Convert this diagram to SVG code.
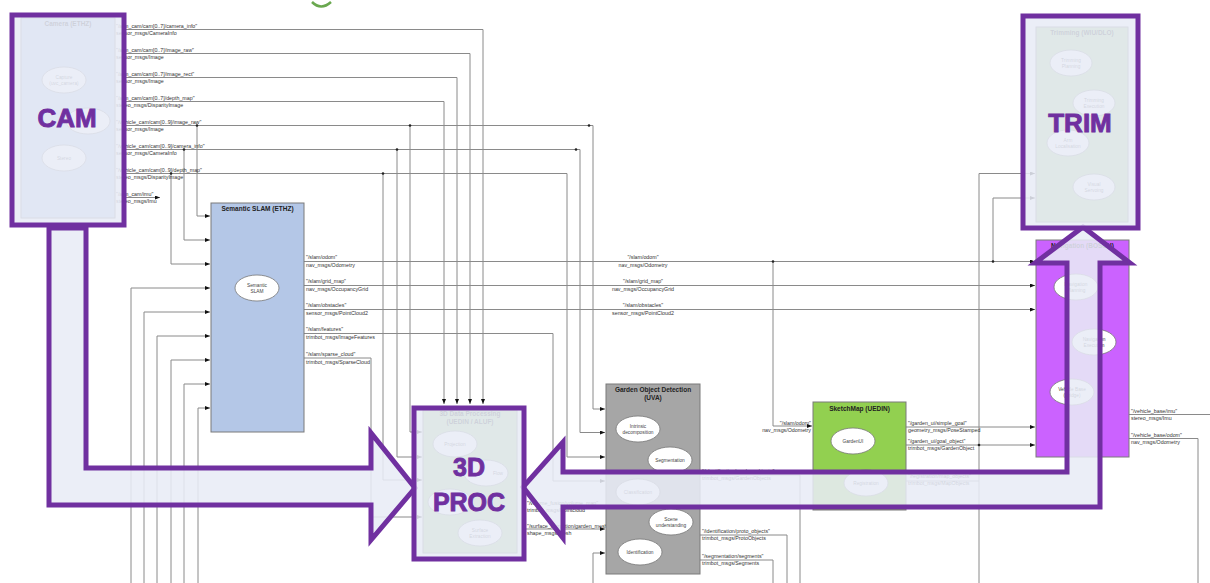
<svg xmlns="http://www.w3.org/2000/svg" width="1210" height="583" viewBox="0 0 1210 583">
<defs>
<marker id="a" markerWidth="5" markerHeight="4" refX="5" refY="2" orient="auto" markerUnits="userSpaceOnUse"><path d="M0,0 L5,2 L0,4 z" fill="#111"/></marker>
<style>
.c{fill:none;stroke:#8a8a8a;stroke-width:1}
.ca{fill:none;stroke:#8a8a8a;stroke-width:1;marker-end:url(#a)}
.d{fill:#222}
.lb{font-family:"Liberation Sans",Arial,sans-serif;font-size:5.3px;fill:#333}
.lbc{font-family:"Liberation Sans",Arial,sans-serif;font-size:5.3px;fill:#333;text-anchor:middle}
.lbr{font-family:"Liberation Sans",Arial,sans-serif;font-size:5.3px;fill:#333;text-anchor:end}
.nd{stroke:#7a7a7a;stroke-width:1}
.tt{font-family:"Liberation Sans",Arial,sans-serif;font-size:6.5px;font-weight:bold;fill:#222;text-anchor:middle}
.el{fill:#fff;stroke:#777;stroke-width:0.8}
.et{font-family:"Liberation Sans",Arial,sans-serif;font-size:4.8px;fill:#444;text-anchor:middle}
.ov{fill:#e8ecf6;fill-opacity:0.87;stroke:#7030a0;stroke-width:5}
.big{font-family:"Liberation Sans",Arial,sans-serif;font-weight:bold;fill:#7030a0;stroke:#7030a0;stroke-width:0.9;text-anchor:middle}
</style>
</defs>
<rect width="1210" height="583" fill="#fff"/>
<path d="M312,2 Q321,11 331,2" fill="none" stroke="#6aa84f" stroke-width="2.5"/>

<g id="connectors">
<path class="ca" d="M125,29.5 H483 V404"/>
<path class="ca" d="M125,53.5 H470 V404"/>
<path class="ca" d="M125,77.5 H457 V404"/>
<path class="ca" d="M125,101.5 H444 V404"/>
<path class="ca" d="M125,125.5 H593 V409 H605"/>
<path class="ca" d="M125,149.5 H580 V432.5 H605"/>
<path class="ca" d="M125,173.5 H567 V457 H605"/>
<path class="ca" d="M125,197.5 H160"/>
<path class="ca" d="M197,125.5 V216 H210"/>
<path class="ca" d="M184,149.5 V240 H210"/>
<path class="ca" d="M171,173.5 V264 H210"/>
<path class="ca" d="M131,583 V288 H210"/>
<path class="ca" d="M144,583 V312 H210"/>
<path class="ca" d="M157,583 V336 H210"/>
<path class="ca" d="M171,583 V360 H210"/>
<path class="ca" d="M184,583 V384 H210"/>
<path class="ca" d="M198,583 V408 H210"/>
<path class="ca" d="M410,125.5 V432 H422"/>
<path class="ca" d="M397,149.5 V457 H422"/>
<path class="ca" d="M383,173.5 V480 H422"/>
<path class="ca" d="M371,358 V517 H422"/>
<path class="c" d="M304,358 H371"/>
<path class="ca" d="M304,261.5 H1035"/>
<path class="ca" d="M304,285.5 H1035"/>
<path class="ca" d="M304,309.5 H1035"/>
<path class="ca" d="M304,333.5 H553 V481 H605"/>
<path class="ca" d="M773,261.5 V426 H812"/>
<path class="ca" d="M993,261.5 V198 H1035"/>
<path class="ca" d="M979,445 V173.5 H1035"/>
<path class="c" d="M979,445 V583"/>
<path class="c" d="M906,481 H979"/>
<path class="ca" d="M906,427 H1035"/>
<path class="ca" d="M906,445 H1035"/>
<path class="c" d="M1129,414.5 H1210"/>
<path class="c" d="M1129,438.5 H1198 V583"/>
<path class="c" d="M700,535 H787 V583"/>
<path class="c" d="M700,560 H773 V583"/>
<path class="c" d="M700,475 H800 V583"/>
<path class="ca" d="M525,529 H605"/>
<path class="ca" d="M593,583 V553 H605"/>
<circle class="d" cx="197" cy="125.5" r="1.3"/>
<circle class="d" cx="184" cy="149.5" r="1.3"/>
<circle class="d" cx="171" cy="173.5" r="1.3"/>
<circle class="d" cx="410" cy="125.5" r="1.3"/>
<circle class="d" cx="397" cy="149.5" r="1.3"/>
<circle class="d" cx="383" cy="173.5" r="1.3"/>
<circle class="d" cx="589" cy="125.5" r="1.3"/>
<circle class="d" cx="576" cy="149.5" r="1.3"/>
<circle class="d" cx="773" cy="261.5" r="1.3"/>
<circle class="d" cx="993" cy="261.5" r="1.3"/>
<circle class="d" cx="979" cy="445" r="1.3"/>
</g>

<g id="labels">
<text class="lb" x="116" y="27.5">"/arm_cam/cam[0..7]/camera_info"</text><text class="lb" x="116" y="34.5">sensor_msgs/CameraInfo</text>
<text class="lb" x="116" y="51.5">"/arm_cam/cam[0..7]/image_raw"</text><text class="lb" x="116" y="58.5">sensor_msgs/Image</text>
<text class="lb" x="116" y="75.5">"/arm_cam/cam[0..7]/image_rect"</text><text class="lb" x="116" y="82.5">sensor_msgs/Image</text>
<text class="lb" x="116" y="99.5">"/arm_cam/cam[0..7]/depth_map"</text><text class="lb" x="116" y="106.5">stereo_msgs/DisparityImage</text>
<text class="lb" x="116" y="123.5">"/vehicle_cam/cam[0..9]/image_raw"</text><text class="lb" x="116" y="130.5">sensor_msgs/Image</text>
<text class="lb" x="116" y="147.5">"/vehicle_cam/cam[0..9]/camera_info"</text><text class="lb" x="116" y="154.5">sensor_msgs/CameraInfo</text>
<text class="lb" x="116" y="171.5">"/vehicle_cam/cam[0..9]/depth_map"</text><text class="lb" x="116" y="178.5">stereo_msgs/DisparityImage</text>
<text class="lb" x="116" y="195.5">"/arm_cam/imu"</text><text class="lb" x="116" y="202.5">stereo_msgs/Imu</text>
<text class="lb" x="306" y="259">"/slam/odom"</text><text class="lb" x="306" y="266.5">nav_msgs/Odometry</text>
<text class="lb" x="306" y="283">"/slam/grid_map"</text><text class="lb" x="306" y="290.5">nav_msgs/OccupancyGrid</text>
<text class="lb" x="306" y="307">"/slam/obstacles"</text><text class="lb" x="306" y="314.5">sensor_msgs/PointCloud2</text>
<text class="lb" x="306" y="331">"/slam/features"</text><text class="lb" x="306" y="338.5">trimbot_msgs/ImageFeatures</text>
<text class="lb" x="306" y="356">"/slam/sparse_cloud"</text><text class="lb" x="306" y="363.5">trimbot_msgs/SparseCloud</text>
<text class="lbc" x="643" y="259">"/slam/odom"</text><text class="lbc" x="643" y="266.5">nav_msgs/Odometry</text>
<text class="lbc" x="643" y="283">"/slam/grid_map"</text><text class="lbc" x="643" y="290.5">nav_msgs/OccupancyGrid</text>
<text class="lbc" x="643" y="307">"/slam/obstacles"</text><text class="lbc" x="643" y="314.5">sensor_msgs/PointCloud2</text>
<text class="lbr" x="811" y="424.5">"/slam/odom"</text><text class="lbr" x="811" y="431.5">nav_msgs/Odometry</text>
<text class="lb" x="908" y="425">"/garden_ui/simple_goal"</text><text class="lb" x="908" y="432">geometry_msgs/PoseStamped</text>
<text class="lb" x="908" y="443">"/garden_ui/goal_object"</text><text class="lb" x="908" y="450">trimbot_msgs/GardenObject</text>
<text class="lb" x="908" y="478">"/registration/map_objects"</text><text class="lb" x="908" y="485">trimbot_msgs/MapObjects</text>
<text class="lb" x="702" y="472.5">"/identification/garden_objects"</text><text class="lb" x="702" y="479.5">trimbot_msgs/GardenObjects</text>
<text class="lb" x="702" y="533">"/identification/proto_objects"</text><text class="lb" x="702" y="540">trimbot_msgs/ProtoObjects</text>
<text class="lb" x="702" y="558">"/segmentation/segments"</text><text class="lb" x="702" y="565">trimbot_msgs/Segments</text>
<text class="lb" x="1131" y="413">"/vehicle_base/imu"</text><text class="lb" x="1131" y="420">stereo_msgs/Imu</text>
<text class="lb" x="1131" y="437">"/vehicle_base/odom"</text><text class="lb" x="1131" y="444">nav_msgs/Odometry</text>
<text class="lb" x="527" y="505">"/volume_fusion/volume_map"</text><text class="lb" x="527" y="512">trimbot_msgs/Pointcloud</text>
<text class="lb" x="527" y="527.5">"/surface_extraction/garden_mesh"</text><text class="lb" x="527" y="534.5">shape_msgs/Mesh</text>
</g>

<g id="slam">
<rect class="nd" x="211" y="203" width="93" height="229" fill="#b4c7e7"/>
<text class="tt" x="257.5" y="211">Semantic SLAM (ETHZ)</text>
<ellipse class="el" cx="257" cy="288" rx="22" ry="13"/>
<text class="et" x="257" y="286.5">Semantic</text><text class="et" x="257" y="292.5">SLAM</text>
</g>

<g id="god">
<rect class="nd" x="606" y="384" width="94" height="190" fill="#a6a6a6"/>
<text class="tt" x="653" y="392">Garden Object Detection</text>
<text class="tt" x="653" y="400">(UVA)</text>
<ellipse class="el" cx="638" cy="429" rx="22" ry="13"/>
<text class="et" x="638" y="427.5">Intrinsic</text><text class="et" x="638" y="433.5">decomposition</text>
<ellipse class="el" cx="670" cy="460" rx="22" ry="13"/>
<text class="et" x="670" y="462">Segmentation</text>
<ellipse class="el" cx="638" cy="492" rx="22" ry="13"/>
<text class="et" x="638" y="494">Classification</text>
<ellipse class="el" cx="671" cy="522" rx="22" ry="13"/>
<text class="et" x="671" y="520.5">Scene</text><text class="et" x="671" y="526.5">understanding</text>
<ellipse class="el" cx="640" cy="552" rx="22" ry="13"/>
<text class="et" x="640" y="554">Identification</text>
</g>

<g id="sketchmap">
<rect class="nd" x="813" y="402" width="93" height="108" fill="#92d050"/>
<text class="tt" x="859.5" y="411">SketchMap (UEDIN)</text>
<ellipse class="el" cx="853" cy="441" rx="22" ry="13"/>
<text class="et" x="853" y="443">GardenUI</text>
<ellipse class="el" cx="866" cy="483" rx="22" ry="13"/>
<text class="et" x="866" y="485">Registration</text>
</g>

<g id="navigation">
<rect class="nd" x="1036" y="240" width="93" height="217" fill="#cb62ff"/>
<text class="tt" x="1082.5" y="248">Navigation (BOSCH)</text>
<ellipse class="el" cx="1076" cy="287" rx="22" ry="13"/>
<text class="et" x="1076" y="285.5">Navigation</text><text class="et" x="1076" y="291.5">Planning</text>
<ellipse class="el" cx="1094" cy="342" rx="22" ry="13"/>
<text class="et" x="1094" y="340.5">Navigation</text><text class="et" x="1094" y="346.5">Execution</text>
<ellipse class="el" cx="1072" cy="392" rx="22" ry="13"/>
<text class="et" x="1072" y="390.5">Vehicle Base</text><text class="et" x="1072" y="396.5">(Bridge)</text>
</g>

<g id="camera">
<rect class="nd" x="21" y="18" width="94" height="200" fill="#b4c7e7"/>
<text class="tt" x="68" y="26">Camera (ETHZ)</text>
<ellipse class="el" cx="64" cy="80" rx="22" ry="13"/>
<text class="et" x="64" y="78.5">Capture</text><text class="et" x="64" y="84.5">(uvc_camera)</text>
<ellipse class="el" cx="88" cy="121" rx="22" ry="13"/>
<ellipse class="el" cx="64" cy="158" rx="22" ry="13"/>
<text class="et" x="64" y="160">Stereo</text>
</g>

<g id="trimming">
<rect class="nd" x="1036" y="27" width="92" height="195" fill="#a9d18e"/>
<text class="tt" x="1082" y="35">Trimming (WIU/DLO)</text>
<ellipse class="el" cx="1071" cy="63" rx="21" ry="13"/>
<text class="et" x="1071" y="61.5">Trimming</text><text class="et" x="1071" y="67.5">Planning</text>
<ellipse class="el" cx="1094" cy="103" rx="21" ry="13"/>
<text class="et" x="1094" y="101.5">Trimming</text><text class="et" x="1094" y="107.5">Execution</text>
<ellipse class="el" cx="1068" cy="143" rx="21" ry="13"/>
<text class="et" x="1068" y="141.5">Arm</text><text class="et" x="1068" y="147.5">Localisation</text>
<ellipse class="el" cx="1094" cy="187" rx="21" ry="13"/>
<text class="et" x="1094" y="185.5">Visual</text><text class="et" x="1094" y="191.5">Servoing</text>
</g>

<g id="dataproc">
<rect class="nd" x="423" y="410" width="94" height="143" fill="#a9d18e"/>
<text class="tt" x="470" y="416">3D Data Processing</text>
<text class="tt" x="470" y="424">(UEDIN / ALUF)</text>
<ellipse class="el" cx="455" cy="444" rx="22" ry="13"/>
<text class="et" x="455" y="446">Projection</text>
<ellipse class="el" cx="486" cy="473" rx="22" ry="13"/>
<text class="et" x="498" y="475">Flow</text>
<ellipse class="el" cx="450" cy="502" rx="22" ry="13"/>
<ellipse class="el" cx="480" cy="533" rx="22" ry="13"/>
<text class="et" x="480" y="531.5">Surface</text><text class="et" x="480" y="537.5">Extraction</text>
</g>

<g id="overlays">
<path class="ov" d="M49,228 H86 V468 H371 V433 L415,488 L371,540 V505 H49 Z"/>
<path class="ov" d="M1100,263 H1130 L1083,227 L1035,263 H1067 V472 H563 V442 L523,487 L563,538 V507 H1100 Z"/>
<rect class="ov" x="12" y="15" width="112" height="210"/>
<rect class="ov" x="1023" y="16" width="115" height="212"/>
<rect class="ov" x="414" y="408" width="110" height="151"/>
<text class="big" x="67" y="127" font-size="26">CAM</text>
<text class="big" x="1080" y="132" font-size="26">TRIM</text>
<text class="big" x="469" y="476" font-size="25">3D</text>
<text class="big" x="469" y="511" font-size="25">PROC</text>
</g>
</svg>
